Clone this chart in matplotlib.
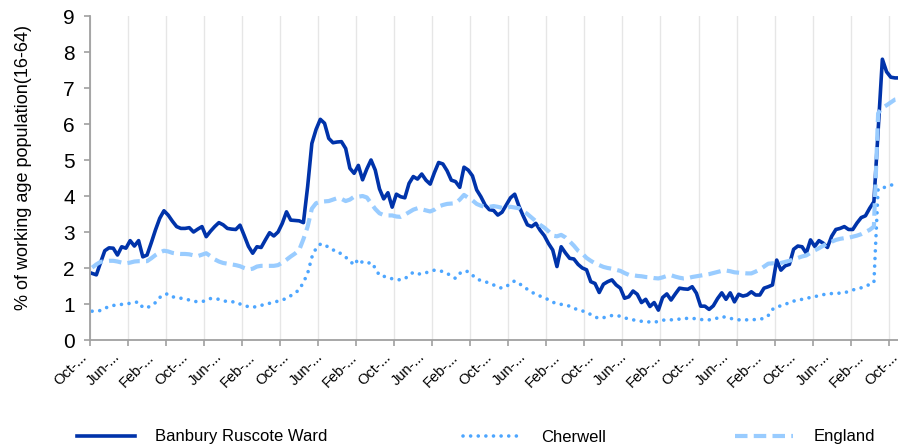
import matplotlib
matplotlib.use('Agg')
import matplotlib.pyplot as plt
from matplotlib.transforms import ScaledTranslation

# monthly claimant rate, Oct 2004 .. Oct 2020
banbury = [
    1.85, 1.81, 2.15, 2.48, 2.56, 2.55, 2.36, 2.59, 2.55, 2.76,
    2.61, 2.76, 2.31, 2.36, 2.70, 3.06, 3.38, 3.59, 3.47, 3.30,
    3.15, 3.10, 3.10, 3.12, 3.00, 3.08, 3.15, 2.87, 3.02, 3.15,
    3.26, 3.20, 3.10, 3.08, 3.07, 3.19, 2.90, 2.60, 2.41, 2.59,
    2.57, 2.78, 2.98, 2.89, 3.00, 3.24, 3.56, 3.33, 3.32, 3.31,
    3.26, 4.26, 5.46, 5.85, 6.13, 6.02, 5.60, 5.48, 5.50, 5.51,
    5.32, 4.77, 4.63, 4.85, 4.45, 4.75, 5.00, 4.72, 4.20, 3.92,
    4.09, 3.69, 4.05, 3.98, 3.95, 4.35, 4.54, 4.47, 4.61, 4.44,
    4.33, 4.65, 4.93, 4.89, 4.70, 4.44, 4.40, 4.24, 4.80, 4.72,
    4.56, 4.17, 3.98, 3.75, 3.62, 3.60, 3.47, 3.55, 3.75, 3.95,
    4.05, 3.72, 3.45, 3.20, 3.15, 3.24, 3.05, 2.90, 2.68, 2.50,
    2.04, 2.59, 2.42, 2.27, 2.25, 2.10, 2.00, 1.95, 1.62, 1.57,
    1.32, 1.55, 1.62, 1.67, 1.53, 1.44, 1.16, 1.20, 1.36, 1.27,
    1.04, 1.13, 0.93, 1.04, 0.83, 1.18, 1.28, 1.11, 1.28, 1.44,
    1.42, 1.41, 1.48, 1.30, 0.94, 0.94, 0.85, 0.95, 1.15, 1.31,
    1.13, 1.31, 1.06, 1.27, 1.22, 1.25, 1.34, 1.25, 1.25, 1.44,
    1.48, 1.53, 2.22, 1.94, 2.06, 2.10, 2.52, 2.61, 2.59, 2.41,
    2.78, 2.60, 2.76, 2.69, 2.57, 2.88, 3.07, 3.10, 3.15, 3.07,
    3.07, 3.25, 3.40, 3.45, 3.66, 3.84, 5.80, 7.80, 7.45, 7.30,
    7.28, 7.28, 7.28,
]
cherwell = [
    0.80, 0.80, 0.82, 0.88, 0.93, 0.96, 0.97, 0.99, 1.00, 1.02,
    1.04, 1.06, 0.90, 0.90, 0.95, 1.04, 1.18, 1.27, 1.28, 1.20,
    1.18, 1.16, 1.14, 1.11, 1.08, 1.06, 1.07, 1.09, 1.15, 1.15,
    1.13, 1.10, 1.06, 1.06, 1.06, 1.00, 0.97, 0.92, 0.91, 0.93,
    0.96, 1.00, 1.02, 1.05, 1.08, 1.11, 1.16, 1.23, 1.30, 1.40,
    1.60, 1.85, 2.30, 2.55, 2.66, 2.66, 2.56, 2.50, 2.48, 2.38,
    2.30, 2.20, 2.08, 2.25, 2.15, 2.12, 2.16, 2.00, 1.79, 1.77,
    1.74, 1.70, 1.68, 1.67, 1.70, 1.80, 1.88, 1.84, 1.83, 1.87,
    1.90, 1.94, 1.93, 1.90, 1.85, 1.78, 1.71, 1.85, 1.92, 1.90,
    1.80, 1.70, 1.65, 1.62, 1.58, 1.53, 1.47, 1.44, 1.48, 1.58,
    1.64, 1.58, 1.48, 1.41, 1.33, 1.27, 1.22, 1.17, 1.12, 1.05,
    1.01, 0.99, 0.97, 0.94, 0.88, 0.84, 0.81, 0.76, 0.71, 0.64,
    0.60, 0.62, 0.65, 0.68, 0.68, 0.66, 0.62, 0.58, 0.56, 0.54,
    0.52, 0.51, 0.50, 0.49, 0.52, 0.55, 0.56, 0.56, 0.57, 0.58,
    0.60, 0.60, 0.60, 0.59, 0.57, 0.56, 0.56, 0.58, 0.61, 0.65,
    0.63, 0.60, 0.58, 0.56, 0.56, 0.56, 0.56, 0.57, 0.58, 0.60,
    0.68, 0.85, 0.92, 0.95, 0.99, 1.04, 1.08, 1.11, 1.13, 1.16,
    1.18, 1.20, 1.24, 1.26, 1.28, 1.29, 1.30, 1.30, 1.31, 1.35,
    1.39, 1.42, 1.45, 1.50, 1.54, 1.59, 4.20, 4.22, 4.26, 4.30,
    4.33, 4.35, 4.36,
]
england = [
    2.01, 2.10, 2.17, 2.19, 2.20, 2.20, 2.18, 2.15, 2.13, 2.15,
    2.18, 2.19, 2.19, 2.19, 2.27, 2.36, 2.43, 2.48, 2.46, 2.42,
    2.40, 2.39, 2.39, 2.38, 2.35, 2.33, 2.37, 2.41, 2.33, 2.24,
    2.18, 2.14, 2.12, 2.10, 2.08, 2.05, 2.00, 1.96, 1.98, 2.04,
    2.06, 2.06, 2.06, 2.06, 2.08, 2.15, 2.23, 2.32, 2.40, 2.50,
    2.80, 3.15, 3.65, 3.80, 3.84, 3.85, 3.86, 3.90, 3.94, 3.92,
    3.86, 3.90, 3.98, 3.98, 4.00, 3.96, 3.80, 3.64, 3.52, 3.47,
    3.46, 3.46, 3.43, 3.42, 3.48, 3.55, 3.62, 3.66, 3.63, 3.60,
    3.57, 3.62, 3.71, 3.75, 3.78, 3.79, 3.80, 3.90, 4.03, 3.95,
    3.88, 3.78, 3.73, 3.70, 3.70, 3.72, 3.70, 3.67, 3.67, 3.70,
    3.68, 3.66, 3.58, 3.50, 3.40, 3.30, 3.20, 3.12, 3.02, 2.90,
    2.88, 2.92, 2.85, 2.74, 2.62, 2.48, 2.40, 2.28, 2.20, 2.13,
    2.08, 2.03, 2.00, 1.98, 1.95, 1.92, 1.86, 1.81, 1.80, 1.78,
    1.77, 1.75, 1.74, 1.72, 1.71, 1.74, 1.78, 1.80, 1.76, 1.73,
    1.71, 1.72, 1.75, 1.77, 1.79, 1.81, 1.83, 1.86, 1.89, 1.92,
    1.93, 1.91, 1.88, 1.87, 1.86, 1.85, 1.85, 1.90, 1.96, 2.04,
    2.12, 2.13, 2.13, 2.14, 2.17, 2.20, 2.24, 2.28, 2.32, 2.35,
    2.42, 2.49, 2.55, 2.62, 2.68, 2.73, 2.78, 2.81, 2.83, 2.84,
    2.87, 2.90, 2.94, 3.00, 3.06, 3.15, 6.30, 6.45, 6.52, 6.60,
    6.68, 6.70, 6.72,
]
tick_labels = [
    'Oct-...', 'Jun-...', 'Feb-...', 'Oct-...', 'Jun-...', 'Feb-...',
    'Oct-...', 'Jun-...', 'Feb-...', 'Oct-...', 'Jun-...', 'Feb-...',
    'Oct-...', 'Jun-...', 'Feb-...', 'Oct-...', 'Jun-...', 'Feb-...',
    'Oct-...', 'Jun-...', 'Feb-...', 'Oct-...', 'Jun-...', 'Feb-...',
    'Oct-...',
]
series_names = ['Banbury Ruscote Ward', 'Cherwell', 'England']

months = list(range(len(banbury)))
font = 'Liberation Sans'
axis_grey = '#a0a0a0'

fig = plt.figure(figsize=(8.98, 4.47), dpi=100)
ax = fig.add_axes([90 / 898, 107 / 447, 815.6 / 898, 324 / 447])

l1, = ax.plot(months, banbury, color='#0033aa', lw=2.6)
l2, = ax.plot(months, cherwell, color='#4da6ff', lw=2.6, ls=(0, (0.01, 2.1)),
              dash_capstyle='round')
l3, = ax.plot(months, england, color='#99ccff', lw=3, ls=(0, (3, 1.5)))

ax.set_xlim(-0.5, 192.5)
ax.set_ylim(0, 9)

# tick marks + grid every 9 months, labels every 8 months
ax.set_xticks([-0.5 + 9 * k for k in range(22)])
ax.set_xticklabels([])
ax.tick_params(axis='x', length=4, color=axis_grey, width=1.2)
ax.grid(True, axis='x', color='#e6e6e6', lw=1)
ax.set_axisbelow(True)

label_pos = list(range(0, 193, 8))
offset = ScaledTranslation(-13 / 100, -10 / 100, fig.dpi_scale_trans)
for pos, lab in zip(label_pos, tick_labels):
    ax.text(pos, 0, lab, transform=ax.get_xaxis_transform() + offset,
            rotation=45, ha='right', va='top', rotation_mode='anchor',
            fontsize=10.5, family=font, clip_on=False)

ax.set_yticks(range(10))
ax.set_yticklabels([str(v) for v in range(10)], family=font, fontsize=15)
ax.tick_params(axis='y', length=4, color=axis_grey, width=1.2, pad=7)

for side in ['top', 'right']:
    ax.spines[side].set_visible(False)
for side in ['left', 'bottom']:
    ax.spines[side].set_color(axis_grey)
    ax.spines[side].set_linewidth(1.3)

fig.text(24 / 898, 1 - 168 / 447, '% of working age population(16-64)',
         rotation=90, ha='center', va='center', fontsize=13, family=font)

# legend entries placed individually, as in the reference
legend_x = [77, 463, 735]
for line, name, x0 in zip([l1, l2, l3], series_names, legend_x):
    fig.legend(handles=[line], labels=[name], loc='center left',
               bbox_to_anchor=(x0 / 898, 1 - 437 / 447), frameon=False,
               borderpad=0, borderaxespad=0, handlelength=3.5, handletextpad=1.2,
               prop={'family': font, 'size': 12})

fig.savefig('out.png', dpi=100)
